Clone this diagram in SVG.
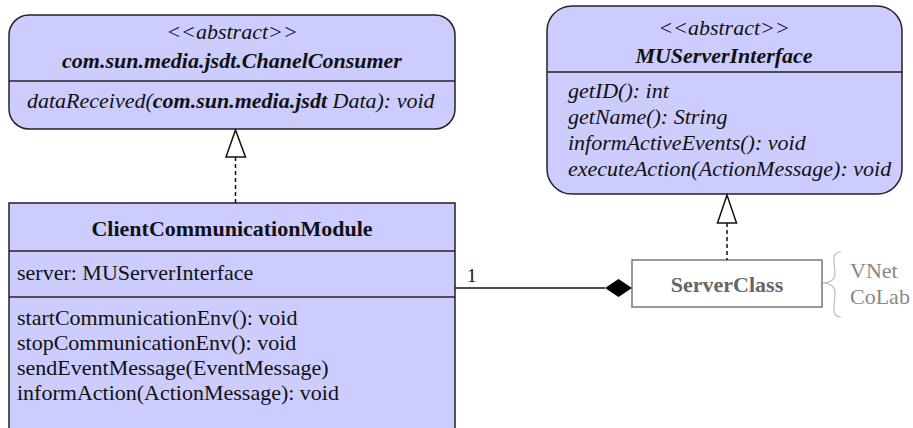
<svg xmlns="http://www.w3.org/2000/svg" width="913" height="428" viewBox="0 0 913 428">
<style>
.box{fill:#ccccff;stroke:#222;stroke-width:1.5}
.div{stroke:#222;stroke-width:1.5}
text{font-family:"Liberation Serif","Times New Roman",serif;font-size:22px;fill:#111}
.it{font-style:italic}
.b{font-weight:bold}
.c{text-anchor:middle}
.gray{fill:#666}
.lgray{fill:#888}
.dash{stroke:#111;stroke-width:1.5;stroke-dasharray:4 3;fill:none}
.tri{fill:#fff;stroke:#111;stroke-width:1.5}
</style>
<rect width="913" height="428" fill="#fff"/>
<g id="chanelConsumer">
<rect class="box" x="9" y="15" width="446" height="114" rx="20" ry="20"/>
<line class="div" x1="9" y1="81" x2="455" y2="81"/>
<text class="it c" x="232" y="39">&lt;&lt;abstract&gt;&gt;</text>
<text class="it b c" x="232" y="68">com.sun.media.jsdt.ChanelConsumer</text>
<text class="it" x="27" y="108">dataReceived(<tspan class="b">com.sun.media.jsdt</tspan> Data): void</text>
</g>
<g id="muServerInterface">
<rect class="box" x="547" y="6" width="355" height="188" rx="25" ry="25"/>
<line class="div" x1="547" y1="72" x2="902" y2="72"/>
<text class="it c" x="724" y="35">&lt;&lt;abstract&gt;&gt;</text>
<text class="it b c" x="724" y="63">MUServerInterface</text>
<text class="it" x="568" y="98">getID(): int</text>
<text class="it" x="568" y="124">getName(): String</text>
<text class="it" x="568" y="150">informActiveEvents(): void</text>
<text class="it" x="568" y="176">executeAction(ActionMessage): void</text>
</g>
<g id="clientCommunicationModule">
<rect class="box" x="9" y="203" width="446" height="240"/>
<line class="div" x1="9" y1="251" x2="455" y2="251"/>
<line class="div" x1="9" y1="297" x2="455" y2="297"/>
<text class="b c" x="232" y="236">ClientCommunicationModule</text>
<text x="17" y="280">server: MUServerInterface</text>
<text x="17" y="325">startCommunicationEnv(): void</text>
<text x="17" y="350">stopCommunicationEnv(): void</text>
<text x="17" y="375">sendEventMessage(EventMessage)</text>
<text x="17" y="400">informAction(ActionMessage): void</text>
</g>
<g id="serverClass">
<rect x="632" y="260" width="190" height="47" fill="#fff" stroke="#777" stroke-width="1.5"/>
<text class="b c gray" x="727" y="292">ServerClass</text>
<path d="M841 252 C830 252 835 264 835 274 C835 280 829 283 823 283 C829 283 835 286 835 292 C835 304 830 317 841 317" fill="none" stroke="#bbb" stroke-width="1.2"/>
<text class="lgray" x="850" y="278">VNet</text>
<text class="lgray" x="850" y="304">CoLab</text>
</g>
<g id="connectors">
<line class="dash" x1="235.5" y1="157" x2="235.5" y2="203"/>
<polygon class="tri" points="235.5,130 226,157 245.5,157"/>
<line class="dash" x1="727" y1="223" x2="727" y2="260"/>
<polygon class="tri" points="727,195 717.5,223 736.5,223"/>
<line x1="455" y1="288" x2="605" y2="288" stroke="#111" stroke-width="1.5"/>
<polygon points="605,288 618.5,279 632,288 618.5,297" fill="#000"/>
<text x="467" y="282" style="font-size:19px">1</text>
</g>
</svg>
